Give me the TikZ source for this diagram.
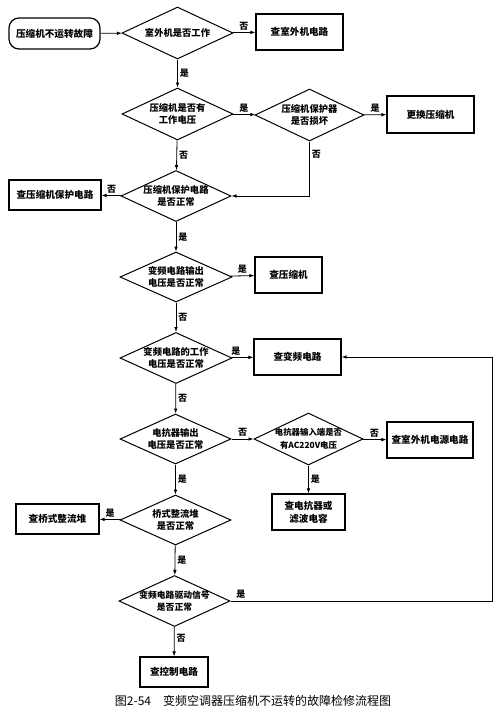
\documentclass[tikz,border=0pt]{standalone}
\usepackage{fontspec}
\setmainfont{Noto Sans CJK SC}
\usetikzlibrary{shapes.geometric,arrows.meta}

\tikzset{every picture/.style={line width=0.8pt}}
\tikzset{
  decision/.style={draw, diamond, line width=1pt, minimum width=111pt, minimum height=52pt, inner sep=0pt},
  dtext/.style={align=center, inner sep=0pt, font=\bfseries\fontsize{9.3}{12.5}\selectfont},
  process/.style={draw, rectangle, line width=1.2pt, align=center, inner sep=0pt, font=\bfseries\fontsize{9.6}{13}\selectfont},
  yn/.style={font=\bfseries\fontsize{9}{9}\selectfont, inner sep=2pt},
  arr/.style={-{Latex[length=5pt,width=3.6pt]}},
}

\begin{document}
\begin{tikzpicture}[x=1pt,y=1pt,yscale=-1,xscale=1]
	\useasboundingbox (0,0) rectangle (500,713);

	%Shape: Rounded Rect
	\node[process, rounded corners=10pt, minimum width=91pt, minimum height=31pt] (start) at (54.5,33.5) {压缩机不运转故障};
	%Shape: Diamond
	\node[decision, label={[dtext]center:室外机是否工作}] (d1) at (177.5,33) {};
	\node[decision, label={[dtext]center:{压缩机是否有\\工作电压}}] (d2) at (177.5,114) {};
	\node[decision, minimum width=109pt, label={[dtext]center:{压缩机保护器\\是否损坏}}] (d3) at (309.5,115) {};
	\node[decision, minimum width=110pt, minimum height=51pt, label={[dtext]center:{压缩机保护电路\\是否正常}}] (d4) at (176,196) {};
	\node[decision, minimum width=112pt, minimum height=50pt, label={[dtext]center:{变频电路输出\\电压是否正常}}] (d5) at (176,277) {};
	\node[decision, minimum width=112pt, minimum height=51pt, label={[dtext]center:{变频电路的工作\\电压是否正常}}] (d6) at (176,358) {};
	\node[decision, minimum height=50pt, label={[dtext]center:{电抗器输出\\电压是否正常}}] (d7) at (175.5,439) {};
	\node[decision, minimum width=109pt, label={[dtext, font=\bfseries\fontsize{8.4}{12.5}\selectfont]center:{电抗器输入端是否\\有AC220V电压}}] (d8) at (308.5,439) {};
	\node[decision, minimum height=50pt, label={[dtext]center:{桥式整流堆\\是否正常}}] (d9) at (175.5,520) {};
	\node[decision, minimum height=51pt, label={[dtext, font=\bfseries\fontsize{8.8}{12.5}\selectfont]center:{变频电路驱动信号\\是否正常}}] (d10) at (174.5,601) {};

	%Shape: Rectangle
	\node[process, minimum width=87pt, minimum height=36pt] (b1) at (299.5,32) {查室外机电路};
	\node[process, minimum width=87pt, minimum height=37pt] (b2) at (430.5,114.5) {更换压缩机};
	\node[process, minimum width=92pt, minimum height=30pt] (b3) at (55,195) {查压缩机保护电路};
	\node[process, minimum width=67pt, minimum height=36pt] (b4) at (288.5,275) {查压缩机};
	\node[process, minimum width=87pt, minimum height=36pt] (b5) at (297.5,357) {查变频电路};
	\node[process, minimum width=86pt, minimum height=36pt] (b6) at (430,440) {查室外机电源电路};
	\node[process, minimum width=73pt, minimum height=36pt] (b7) at (308.5,512) {查电抗器或\\滤波电容};
	\node[process, minimum width=83pt, minimum height=30pt] (b8) at (57.5,519) {查桥式整流堆};
	\node[process, minimum width=68pt, minimum height=30pt] (b9) at (174,672) {查控制电路};

	\coordinate (fb) at (492,601);

	%Straight Lines
	\draw[arr] (start) -- (d1);
	\draw[arr] (d1) -- (b1) node[yn, midway, above] {否};
	\draw[arr] (d1) -- (d2) node[yn, midway, right] {是};
	\draw[arr] (d2) -- (d3) node[yn, midway, above] {是};
	\draw[arr] (d3) -- (b2) node[yn, midway, above] {是};
	\draw[arr] (d2) -- (d4) node[yn, midway, right] {否};
	\draw[arr] (d3.south) |- (d4.east) node[yn, pos=0.12, right] {否};
	\draw[arr] (d4) -- (b3) node[yn, midway, above] {否};
	\draw[arr] (d4) -- (d5) node[yn, midway, right] {是};
	\draw[arr] (d5) -- (b4) node[yn, midway, above] {是};
	\draw[arr] (d5) -- (d6) node[yn, midway, right] {否};
	\draw[arr] (d6) -- (b5) node[yn, pos=0.2, above] {是};
	\draw[arr] (d6) -- (d7) node[yn, midway, right] {否};
	\draw[arr] (d7) -- (d8) node[yn, midway, above] {否};
	\draw[arr] (d8) -- (b6) node[yn, midway, above] {否};
	\draw[arr] (d8) -- (b7) node[yn, midway, right] {是};
	\draw[arr] (d7) -- (d9) node[yn, midway, right] {是};
	\draw[arr] (d9) -- (b8) node[yn, midway, above] {是};
	\draw[arr] (d9) -- (d10) node[yn, midway, right] {是};
	\draw[arr] (d10.east) -- (fb) node[yn, pos=0.04, above] {是} |- (b5.east);
	\draw[arr] (d10) -- (b9) node[yn, pos=0.4, right] {否};

	% Text Node
	\node[font=\fontsize{12}{12}\selectfont] (cap) at (253,701) {图2-54\quad 变频空调器压缩机不运转的故障检修流程图};
\end{tikzpicture}
\end{document}
